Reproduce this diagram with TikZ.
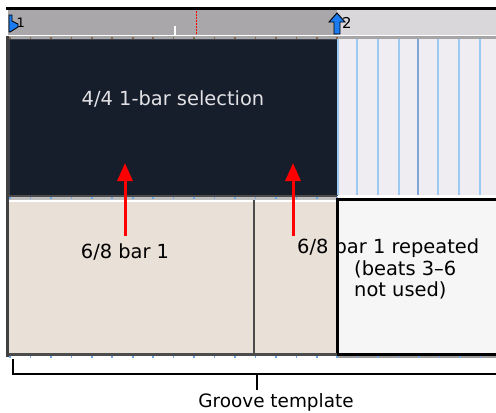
\documentclass[tikz,border=0pt]{standalone}
\usepackage{fontspec}
\setmainfont{DejaVu Sans}
\usetikzlibrary{arrows.meta}
\definecolor{rulerL}{HTML}{A9A7AA}
\definecolor{rulerR}{HTML}{D9D7DA}
\definecolor{darksel}{HTML}{161D2B}
\definecolor{darkedge}{HTML}{3C4250}
\definecolor{gridbg}{HTML}{EFEDF2}
\definecolor{gridline}{HTML}{9CC9F2}
\definecolor{gridlineD}{HTML}{7FA6D6}
\definecolor{beige}{HTML}{E9E0D7}
\definecolor{whitebox}{HTML}{F6F6F6}
\definecolor{tickbrown}{HTML}{8A6A4A}
\definecolor{tickblue}{HTML}{6FA8E8}
\definecolor{markblue}{HTML}{1A7CF0}
\definecolor{seltext}{HTML}{E2E2E6}
\definecolor{arrowred}{HTML}{FF0000}
\tikzset{
  lbl/.style={font=\fontsize{19.5}{23}\selectfont, inner sep=0pt},
  redarrow/.style={draw=arrowred, line width=3bp, -{Triangle[length=18bp,width=15bp]}},
  bracket/.style={draw=black, line width=2.2bp},
  gline/.style={draw=gridline, line width=2bp},
}
\begin{document}
\begin{tikzpicture}[x=1bp,y=-1bp]
\useasboundingbox (0,0) rectangle (496,412);
% top black line
\fill[black] (6,7) rectangle (496,10);
% ruler
\fill[rulerL] (8,10) rectangle (337,35);
\fill[rulerR] (337,10) rectangle (496,35);
\fill[white] (8,34.5) rectangle (496,35.5);
\fill[gray!70] (8,35.5) rectangle (496,38.5);
\foreach \i in {0,...,16} {\fill[tickbrown] (10+20.45*\i-0.8,36.5) rectangle (10+20.45*\i+0.8,38.5);}
% white tick and red dotted playhead
\fill[white] (174,26) rectangle (176,36);
\draw[arrowred, line width=1bp, dash pattern=on 1.5bp off 1.5bp] (196,11) -- (196,35);
% dark selection
\node[fill=darksel, draw=darkedge, line width=1.5bp, minimum width=328bp, minimum height=156bp, anchor=north west, inner sep=0pt] (sel) at (8.5,38.5) {};
\node[lbl, text=seltext] (seltxt) at (173,99) {4/4 1-bar selection};
% right grid
\fill[gridbg] (337.5,38.5) rectangle (496,195);
\foreach \x in {338,357,378,399,438,459,480} {\draw[gline] (\x,38.5) -- (\x,195);}
\draw[draw=gridlineD, line width=2bp] (418,38.5) -- (418,195);
% separator between rows
\fill[black!70] (8,194.5) rectangle (337,197);
\fill[gray!50] (8,197) rectangle (337,199.5);
\fill[white] (8,199.5) rectangle (337,201.5);
\foreach \i in {0,...,16} {\fill[tickblue] (10+20.45*\i-0.8,196.5) rectangle (10+20.45*\i+0.8,199);}
% lower beige region
\node[fill=beige, minimum width=328bp, minimum height=152bp, anchor=north west, inner sep=0pt] (beigebox) at (8.5,201.5) {};
\draw[black!70, line width=2bp] (254,199.5) -- (254,353.5);
% white box (unused beats)
\fill[whitebox] (337,199.5) rectangle (496,354);
\draw[black, line width=3bp] (496,199.5) -- (337,199.5) -- (337,354.5) -- (496,354.5);
% bottom ruler line
\fill[black!70] (8,353) rectangle (337,356);
\fill[gray!80] (337,356) rectangle (496,357.5);
\foreach \i in {0,...,23} {\fill[tickblue] (10+20.45*\i-0.8,355.5) rectangle (10+20.45*\i+0.8,357.5);}
% left border
\fill[black!75] (6,35.5) rectangle (9,357);
% markers
\filldraw[fill=markblue, draw=black, line width=0.9bp] (9,15) -- (12,15) -- (12,21) -- (18,24) -- (18,27) -- (10,32) -- (9,32) -- cycle;
\node[font=\fontsize{13}{14}\selectfont, inner sep=0pt, anchor=west] (m1) at (16.5,23) {1};
\filldraw[fill=markblue, draw=black, line width=0.9bp] (337,13) -- (345,22) -- (340,22) -- (340,34) -- (334,34) -- (334,22) -- (329,22) -- cycle;
\node[font=\fontsize{15}{16}\selectfont, inner sep=0pt, anchor=west] (m2) at (342,23) {2};
% labels
\node[lbl, anchor=base] (lab1) at (125,258) {6/8 bar 1};
\node[lbl, anchor=base west] (lab2a) at (297,253) {6/8 bar 1 repeated};
\node[lbl, anchor=base west] (lab2b) at (354,275) {(beats 3–6};
\node[lbl, anchor=base west] (lab2c) at (354,296) {not used)};
% red arrows
\coordinate (t1) at (125,163);
\coordinate (t2) at (293,163);
\coordinate (s1) at (125,236);
\coordinate (s2) at (293,236);
\draw[redarrow] (s1) -- (t1);
\draw[redarrow] (s2) -- (t2);
% bracket
\coordinate (bl) at (13,359);
\coordinate (bc) at (257,374);
\coordinate (br) at (496,374);
\coordinate (bt) at (257,390);
\node[font=\fontsize{18.5}{22}\selectfont, inner sep=0pt, anchor=base] (groove) at (276,407) {Groove template};
\draw[bracket] (bl) -- (13,374) -- (br);
\draw[bracket] (bc) -- (bt);
\end{tikzpicture}
\end{document}
